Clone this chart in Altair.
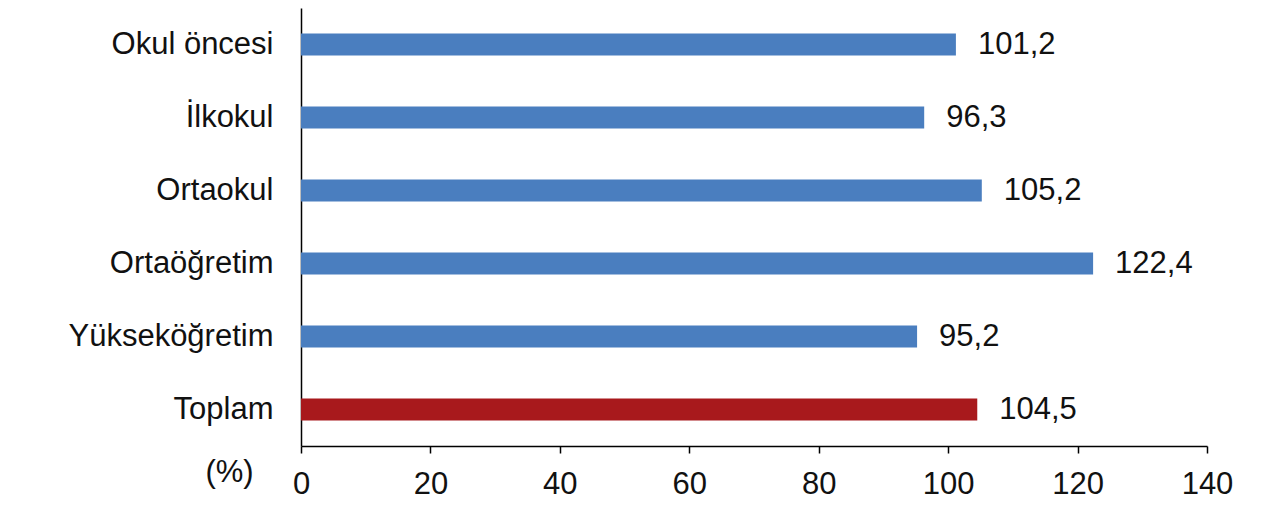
import altair as alt
import pandas as pd

categories = ["Okul öncesi", "İlkokul", "Ortaokul", "Ortaöğretim", "Yükseköğretim", "Toplam"]
values = [101.2, 96.3, 105.2, 122.4, 95.2, 104.5]
groups = ["level", "level", "level", "level", "level", "total"]
x_ticks = [0, 20, 40, 60, 80, 100, 120, 140]

df = pd.DataFrame({
    "cat": categories,
    "val": values,
    "grp": groups,
    "lbl": [f"{v:.1f}".replace(".", ",") for v in values],
})

FONT = "Liberation Sans"
FS = 31

base = alt.Chart(df).encode(
    y=alt.Y("cat:N", sort=categories, title=None,
            scale=alt.Scale(paddingInner=0.7, paddingOuter=0.35),
            axis=alt.Axis(labelFont=FONT, labelFontSize=FS, labelColor="#111",
                          labelPadding=28, labelLimit=400, ticks=False,
                          domainColor="black", domainWidth=1.5, grid=False)),
)

bars = base.mark_bar().encode(
    x=alt.X("val:Q", title="(%)",
            scale=alt.Scale(domain=[0, 140], nice=False),
            axis=alt.Axis(values=x_ticks, labelFont=FONT, labelFontSize=FS,
                          labelColor="#111", labelPadding=16, labelFlush=False,
                          tickSize=7, tickColor="black", tickWidth=1.5,
                          domainColor="black", domainWidth=1.5, grid=False,
                          titleFont=FONT, titleFontSize=FS, titleFontWeight="normal",
                          titleColor="#111", titleX=-72, titleY=26,
                          titleAlign="center", titleBaseline="middle")),
    color=alt.Color("grp:N", scale=alt.Scale(domain=["level", "total"],
                                             range=["#4a7ebf", "#a8191c"]),
                    legend=None),
)

labels = base.mark_text(align="left", baseline="middle", dx=22, font=FONT,
                        fontSize=FS, color="#111").encode(
    x="val:Q",
    text="lbl:N",
)

chart = (bars + labels).properties(
    width=906, height=438,
    background="white",
    autosize=alt.AutoSizeParams(type="none"),
    padding={"left": 293, "top": 0, "right": 60, "bottom": 70},
).configure_view(stroke=None)

chart.save("out.html", embed_options={"renderer": "svg", "actions": False})
